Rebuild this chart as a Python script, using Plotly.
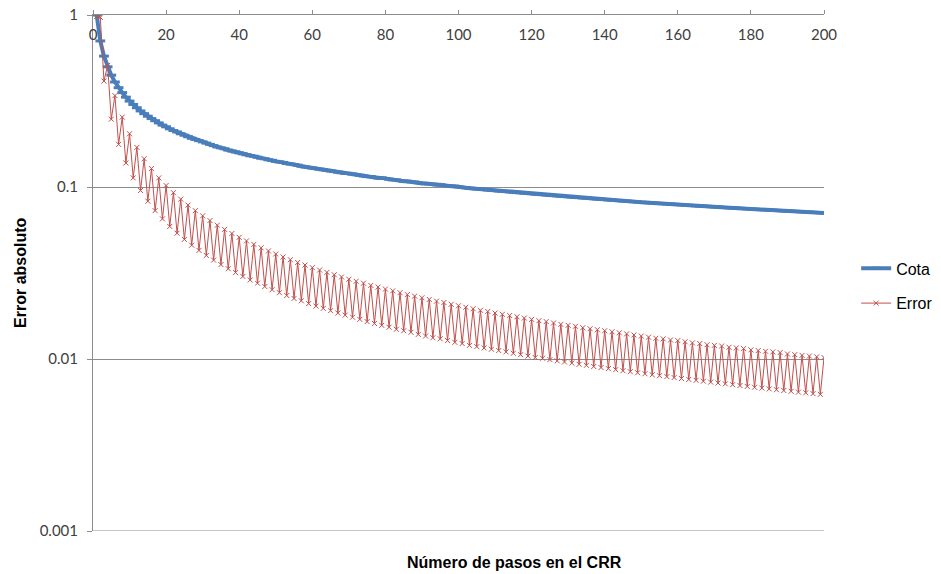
import plotly.graph_objects as go

# Number of steps in the CRR tree
steps = list(range(1, 201))

# Upper bound ("Cota")
cota = [
    1.000, 0.707, 0.577, 0.500, 0.447, 0.408, 0.378, 0.354, 0.333, 0.316,
    0.302, 0.289, 0.277, 0.267, 0.258, 0.250, 0.243, 0.236, 0.229, 0.224,
    0.218, 0.213, 0.209, 0.204, 0.200, 0.196, 0.192, 0.189, 0.186, 0.183,
    0.180, 0.177, 0.174, 0.171, 0.169, 0.167, 0.164, 0.162, 0.160, 0.158,
    0.156, 0.154, 0.152, 0.151, 0.149, 0.147, 0.146, 0.144, 0.143, 0.141,
    0.140, 0.139, 0.137, 0.136, 0.135, 0.134, 0.132, 0.131, 0.130, 0.129,
    0.128, 0.127, 0.126, 0.125, 0.124, 0.123, 0.122, 0.121, 0.120, 0.120,
    0.119, 0.118, 0.117, 0.116, 0.115, 0.115, 0.114, 0.113, 0.113, 0.112,
    0.111, 0.110, 0.110, 0.109, 0.108, 0.108, 0.107, 0.107, 0.106, 0.105,
    0.105, 0.104, 0.104, 0.103, 0.103, 0.102, 0.102, 0.101, 0.101, 0.100,
    0.0995, 0.0990, 0.0985, 0.0981, 0.0976, 0.0971, 0.0967, 0.0962, 0.0958, 0.0953,
    0.0949, 0.0945, 0.0941, 0.0937, 0.0933, 0.0928, 0.0925, 0.0921, 0.0917, 0.0913,
    0.0909, 0.0905, 0.0902, 0.0898, 0.0894, 0.0891, 0.0887, 0.0884, 0.0880, 0.0877,
    0.0874, 0.0870, 0.0867, 0.0864, 0.0861, 0.0857, 0.0854, 0.0851, 0.0848, 0.0845,
    0.0842, 0.0839, 0.0836, 0.0833, 0.0830, 0.0828, 0.0825, 0.0822, 0.0819, 0.0816,
    0.0814, 0.0811, 0.0808, 0.0806, 0.0803, 0.0801, 0.0798, 0.0796, 0.0793, 0.0791,
    0.0788, 0.0786, 0.0783, 0.0781, 0.0778, 0.0776, 0.0774, 0.0772, 0.0769, 0.0767,
    0.0765, 0.0762, 0.0760, 0.0758, 0.0756, 0.0754, 0.0752, 0.0750, 0.0747, 0.0745,
    0.0743, 0.0741, 0.0739, 0.0737, 0.0735, 0.0733, 0.0731, 0.0729, 0.0727, 0.0725,
    0.0724, 0.0722, 0.0720, 0.0718, 0.0716, 0.0714, 0.0712, 0.0711, 0.0709, 0.0707,
]

# Absolute error (odd steps low, even steps high)
error = [
    0.98, 0.97, 0.413, 0.510, 0.248, 0.340, 0.177, 0.255, 0.138, 0.204,
    0.113, 0.170, 0.0954, 0.146, 0.0827, 0.128, 0.0729, 0.113, 0.0653, 0.102,
    0.0590, 0.0927, 0.0539, 0.0850, 0.0496, 0.0785, 0.0459, 0.0729, 0.0428, 0.0680,
    0.0400, 0.0638, 0.0376, 0.0600, 0.0354, 0.0567, 0.0335, 0.0537, 0.0318, 0.0510,
    0.0302, 0.0486, 0.0288, 0.0464, 0.0276, 0.0443, 0.0264, 0.0425, 0.0253, 0.0408,
    0.0243, 0.0392, 0.0234, 0.0378, 0.0225, 0.0364, 0.0218, 0.0352, 0.0210, 0.0340,
    0.0203, 0.0329, 0.0197, 0.0319, 0.0191, 0.0309, 0.0185, 0.0300, 0.0180, 0.0291,
    0.0175, 0.0283, 0.0170, 0.0276, 0.0165, 0.0268, 0.0161, 0.0262, 0.0157, 0.0255,
    0.0153, 0.0249, 0.0149, 0.0243, 0.0146, 0.0237, 0.0143, 0.0232, 0.0139, 0.0227,
    0.0136, 0.0222, 0.0133, 0.0217, 0.0131, 0.0213, 0.0128, 0.0208, 0.0125, 0.0204,
    0.0123, 0.0200, 0.0120, 0.0196, 0.0118, 0.0192, 0.0116, 0.0189, 0.0114, 0.0185,
    0.0112, 0.0182, 0.0110, 0.0179, 0.0108, 0.0176, 0.0106, 0.0173, 0.0104, 0.0170,
    0.0102, 0.0167, 0.0101, 0.0165, 0.00992, 0.0162, 0.00976, 0.0159, 0.00961, 0.0157,
    0.00947, 0.0155, 0.00932, 0.0152, 0.00919, 0.0150, 0.00905, 0.0148, 0.00892, 0.0146,
    0.00879, 0.0144, 0.00867, 0.0142, 0.00855, 0.0140, 0.00844, 0.0138, 0.00832, 0.0136,
    0.00821, 0.0134, 0.00810, 0.0132, 0.00800, 0.0131, 0.00790, 0.0129, 0.00780, 0.0128,
    0.00770, 0.0126, 0.00761, 0.0124, 0.00752, 0.0123, 0.00743, 0.0121, 0.00734, 0.0120,
    0.00725, 0.0119, 0.00717, 0.0117, 0.00709, 0.0116, 0.00701, 0.0115, 0.00693, 0.0113,
    0.00685, 0.0112, 0.00678, 0.0111, 0.00670, 0.0110, 0.00663, 0.0109, 0.00656, 0.0107,
    0.00649, 0.0106, 0.00642, 0.0105, 0.00636, 0.0104, 0.00629, 0.0103, 0.00623, 0.0102,
]

x_ticks = [0, 20, 40, 60, 80, 100, 120, 140, 160, 180, 200]
y_ticks = [0.001, 0.01, 0.1, 1]
y_tick_labels = ["0.001", "0.01", "0.1", "1"]

BLUE = "#4a7ebb"
RED = "#c0504d"
GRID = "#8c8c8c"
TICKFONT = dict(family="Lato, Open Sans, sans-serif", size=15, color="#404040")
TITLEFONT = dict(family="Liberation Sans, Arial, sans-serif", size=16, color="#000000")

fig = go.Figure()
fig.add_trace(go.Scatter(
    x=steps, y=cota, name="Cota", mode="lines+markers",
    line=dict(color=BLUE, width=4),
    marker=dict(symbol="line-ew", size=7, color=BLUE, line=dict(color=BLUE, width=3)),
    legendgroup="a", cliponaxis=True,
))
fig.add_trace(go.Scatter(
    x=steps, y=error, name="Error", mode="lines+markers",
    line=dict(color=RED, width=1),
    marker=dict(symbol="x-thin", size=5, color=RED, line=dict(color=RED, width=1)),
    legendgroup="b", cliponaxis=True,
))

fig.update_layout(
    width=941, height=574,
    margin=dict(l=93, r=117, t=15, b=43, autoexpand=False),
    paper_bgcolor="white", plot_bgcolor="white",
    showlegend=True,
    legend=dict(
        x=1.044, y=0.475, xanchor="left", yanchor="middle",
        font=TITLEFONT,
        tracegroupgap=11, itemwidth=30, traceorder="grouped",
        bgcolor="rgba(0,0,0,0)",
    ),
    xaxis=dict(
        range=[0, 200], tickvals=x_ticks, side="top",
        ticklabelposition="inside", ticklabeloverflow="allow",
        ticklabelstandoff=14,
        ticks="outside", ticklen=4,
        tickcolor=GRID, showline=True, linecolor=GRID, linewidth=1,
        showgrid=False, zeroline=False, tickfont=TICKFONT, automargin=False,
    ),
    yaxis=dict(
        type="log", range=[-3, 0.0002], tickvals=y_ticks, ticktext=y_tick_labels,
        ticks="outside", ticklen=5, tickcolor=GRID,
        showline=True, linecolor=GRID, linewidth=1,
        showgrid=True, gridcolor=GRID, gridwidth=1,
        zeroline=False, tickfont=TICKFONT, ticklabelstandoff=6,
        ticklabeloverflow="allow", automargin=False,
    ),
    annotations=[
        dict(text="<b>Error absoluto</b>", xref="paper", yref="paper",
             x=-0.1, y=0.5, xanchor="center", yanchor="middle", textangle=-90,
             showarrow=False, font=TITLEFONT),
        dict(text="<b>Número de pasos en el CRR</b>", xref="paper", yref="paper",
             x=0.577, y=-0.062, xanchor="center", yanchor="middle",
             showarrow=False, font=TITLEFONT),
    ],
    shapes=[
        dict(type="line", xref="paper", yref="y", x0=0, x1=1, y0=0.001, y1=0.001,
             line=dict(color=GRID, width=1)),
    ],
)

# Remove the default page margin so the figure fills the window exactly.
fig.write_html(
    "out.html",
    config={"displayModeBar": False},
    post_script="document.body.style.margin='0';",
)
